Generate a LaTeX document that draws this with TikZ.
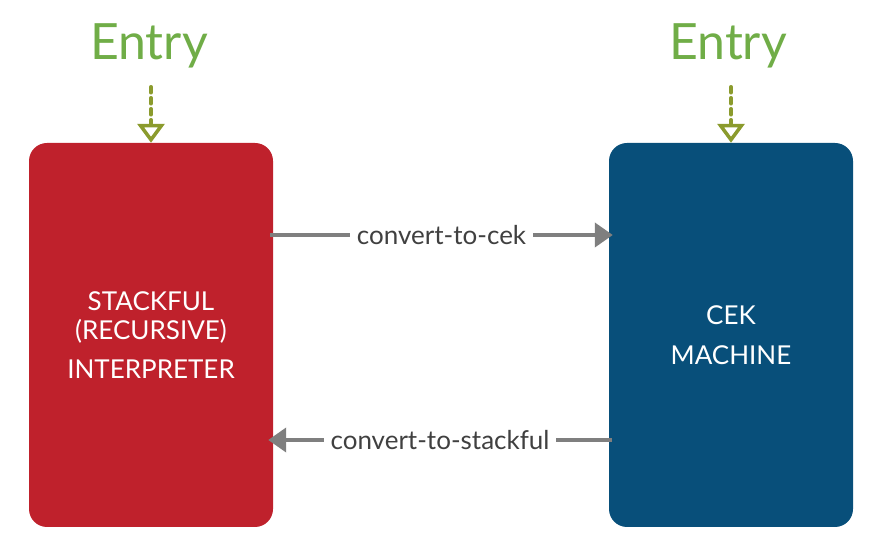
\documentclass[tikz,border=0pt]{standalone}
\usepackage{fontspec}
\setmainfont{Lato}
\usetikzlibrary{arrows.meta,positioning}
\definecolor{boxred}{HTML}{BF212C}
\definecolor{boxblue}{HTML}{084F7A}
\definecolor{entrygreen}{HTML}{70AD47}
\definecolor{entryolive}{HTML}{8B9B2D}
\definecolor{convgray}{HTML}{7F7F7F}
\definecolor{labelgray}{HTML}{404040}
\tikzset{
  machine/.style={rounded corners=18pt, minimum width=244pt, minimum height=384pt,
    text=white, align=center, font=\fontsize{26}{29}\selectfont},
  entry/.style={text=entrygreen, font=\fontsize{50}{56}\selectfont, inner sep=0pt},
  entryarrow/.style={-{Triangle[open,length=19pt,width=27pt]}, entryolive,
    line width=3.5pt, dash pattern=on 6pt off 5pt, line cap=round},
  conv/.style={-{Triangle[length=18pt,width=24pt]}, convgray, line width=4pt},
  convlabel/.style={fill=white, text=labelgray, font=\fontsize{26}{29}\selectfont, inner sep=7pt}
}
\begin{document}
\begin{tikzpicture}[x=1pt,y=1pt]
  \useasboundingbox (0,0) rectangle (874,545);

  \node[machine, fill=boxred] (stackful) at (151,210) {STACKFUL\\(RECURSIVE)\\[10pt]INTERPRETER};
  \node[machine, fill=boxblue] (cek) at (731,210) {CEK\\[11pt]MACHINE};

  \node[entry, anchor=base] (entryL) at (149,485) {Entry};
  \node[entry, anchor=base] (entryR) at (728,485) {Entry};

  \draw[entryarrow, shorten <=18pt] (entryL.south -| stackful.north) -- (stackful.north);
  \draw[entryarrow, shorten <=18pt] (entryR.south -| cek.north) -- (cek.north);

  \draw[conv] ([xshift=-3pt,yshift=100pt]stackful.east)
    -- node[convlabel] {convert-to-cek} ([xshift=4pt,yshift=100pt]cek.west);
  \draw[conv] ([xshift=3pt,yshift=-105pt]cek.west)
    -- node[convlabel] {convert-to-stackful} ([xshift=-5pt,yshift=-105pt]stackful.east);
\end{tikzpicture}
\end{document}
